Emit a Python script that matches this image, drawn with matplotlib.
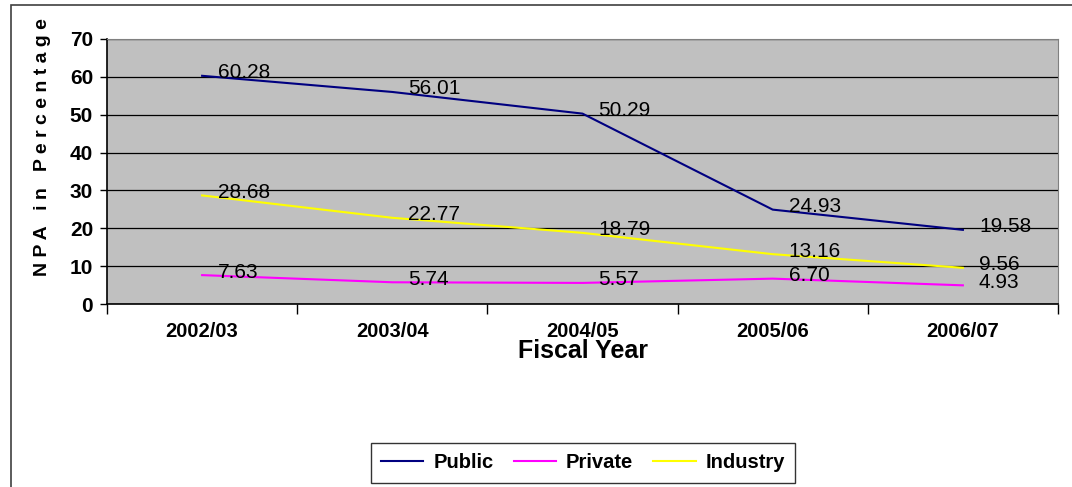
import numpy as np
import matplotlib.pyplot as plt
from matplotlib.patches import Rectangle

plt.rcParams['font.family'] = ['Liberation Sans', 'DejaVu Sans']

years = ['2002/03', '2003/04', '2004/05', '2005/06', '2006/07']
public = [60.28, 56.01, 50.29, 24.93, 19.58]
private = [7.63, 5.74, 5.57, 6.70, 4.93]
industry = [28.68, 22.77, 18.79, 13.16, 9.56]

series = [('Public', public, '#000080'),
          ('Private', private, '#FF00FF'),
          ('Industry', industry, '#FFFF00')]

fig = plt.figure(figsize=(10.72, 4.87), dpi=100)
# outer chart border
fig.patches.append(Rectangle((11/1072, -0.01), 1.02, 1 - 5/487 + 0.01,
                             transform=fig.transFigure, fill=False,
                             edgecolor='#404040', linewidth=1.2))

ax = fig.add_axes([107/1072, 1 - 304/487, 951/1072, 265/487])
ax.set_facecolor('#C0C0C0')

x = np.arange(len(years))
for name, vals, col in series:
    ax.plot(x, vals, color=col, linewidth=1.5, label=name, zorder=3)
    for xi, v in zip(x, vals):
        ax.annotate('%.2f' % v, (xi, v), xytext=(16, 3), textcoords='offset pixels',
                    ha='left', va='center', fontsize=15, color='black', zorder=4)

ax.set_xlim(-0.5, 4.5)
ax.set_ylim(0, 70)
ax.set_yticks(np.arange(0, 71, 10))
ax.yaxis.grid(True, color='black', linewidth=0.9)
ax.set_axisbelow(True)

ax.set_xticks(x)
ax.set_xticklabels(years, fontsize=14.5, fontweight='bold')
ax.set_xticks(np.arange(-0.5, 4.6, 1), minor=True)
ax.tick_params(axis='x', which='major', length=0, pad=13)
ax.tick_params(axis='x', which='minor', length=7, width=1, direction='out')
ax.tick_params(axis='y', length=5, width=1, labelsize=15, pad=5)
for lab in ax.get_yticklabels():
    lab.set_fontweight('bold')

for s in ['top', 'right']:
    ax.spines[s].set_color('#808080')
for s in ['left', 'bottom']:
    ax.spines[s].set_color('black')
    ax.spines[s].set_linewidth(1.2)

fig.text(43/1072, 1 - 147/487, 'N P A   i n   P e r c e n t a g e',
         rotation=90, ha='center', va='center', fontsize=14, fontweight='bold')
fig.text(583/1072, 1 - 351/487, 'Fiscal Year', ha='center', va='center',
         fontsize=18, fontweight='bold')

leg = fig.legend(loc='center', bbox_to_anchor=(583/1072, 1 - 463/487), ncol=3,
                 frameon=True, fancybox=False, edgecolor='black',
                 prop={'weight': 'bold', 'size': 14.5}, handlelength=2.1,
                 columnspacing=1.0, handletextpad=0.5, borderpad=0.5)
leg.get_frame().set_linewidth(1.0)

fig.savefig('out.png', dpi=100)
